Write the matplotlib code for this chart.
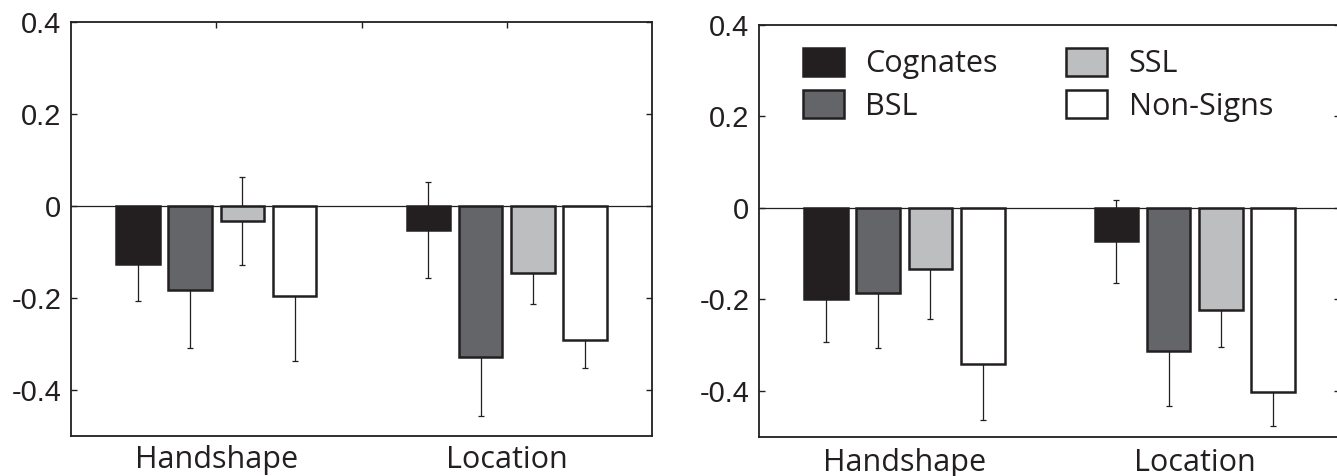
import matplotlib
matplotlib.use("Agg")
import numpy as np
import matplotlib.pyplot as plt

# datos (dos paneles, dos grupos, cuatro condiciones)
groups = ["Handshape", "Location"]
conditions = ["Cognates", "BSL", "SSL", "Non-Signs"]

left_hand = [-0.127, -0.183, -0.034, -0.197]
left_hand_err = [0.080, 0.126, 0.096, 0.141]
left_loc = [-0.053, -0.329, -0.146, -0.293]
left_loc_err = [0.105, 0.129, 0.067, 0.060]

right_hand = [-0.200, -0.186, -0.133, -0.342]
right_hand_err = [0.093, 0.120, 0.110, 0.121]
right_loc = [-0.073, -0.313, -0.222, -0.403]
right_loc_err = [0.090, 0.121, 0.082, 0.073]

yticks = [-0.4, -0.2, 0, 0.2, 0.4]
ytick_labels = ["-0.4", "-0.2", "0", "0.2", "0.4"]

COLORS = ["#231f20", "#646569", "#bcbec0", "#ffffff"]
EDGE = "#231f20"
TEXT_FONT = ["Open Sans", "DejaVu Sans"]
TICK_FONT = ["Liberation Sans", "DejaVu Sans"]

BAR_W = 0.15
OFFSETS = [-0.27, -0.09, 0.09, 0.27]


def draw_panel(ax, hand, hand_err, loc, loc_err, top_ticks, label_pad):
    xs = np.arange(1, len(groups) + 1)
    for k, cond in enumerate(conditions):
        vals = [hand[k], loc[k]]
        errs = [hand_err[k], loc_err[k]]
        xk = xs + OFFSETS[k]
        ax.errorbar(xk, vals, yerr=errs, fmt="none", ecolor=EDGE, elinewidth=0.9,
                    capsize=2.5, capthick=0.9, zorder=1)
        ax.bar(xk, vals, width=BAR_W, color=COLORS[k], edgecolor=EDGE,
               linewidth=1.8, label=cond, zorder=2)
    ax.axhline(0, color=EDGE, linewidth=0.9, zorder=3)

    ax.set_xlim(0.5, 2.5)
    ax.set_ylim(-0.5, 0.4)
    ax.set_yticks(yticks)
    ax.set_yticklabels(ytick_labels, fontsize=21, family=TICK_FONT, color=EDGE)
    ax.set_xticks([1, 1.5, 2])
    ax.set_xticklabels([groups[0], "", groups[1]], fontsize=22, family=TEXT_FONT, color=EDGE)
    ax.tick_params(axis="y", direction="in", left=True, right=True, length=4,
                   width=1, pad=7, color=EDGE)
    ax.tick_params(axis="x", direction="in", bottom=False, top=top_ticks, length=4,
                   width=1, pad=label_pad, color=EDGE)
    for sp in ax.spines.values():
        sp.set_linewidth(1.3)
        sp.set_color(EDGE)


fig = plt.figure(figsize=(13.37, 4.76), dpi=100)
ax1 = fig.add_axes([0.0531, 0.0847, 0.4346, 0.8697])
ax2 = fig.add_axes([0.5677, 0.0826, 0.4346, 0.8649])

draw_panel(ax1, left_hand, left_hand_err, left_loc, left_loc_err, True, 7)
draw_panel(ax2, right_hand, right_hand_err, right_loc, right_loc_err, False, 8)

ax2.legend(loc="upper left", bbox_to_anchor=(0.055, 0.975), ncol=2, frameon=False,
           prop={"family": TEXT_FONT, "size": 22}, handlelength=1.34, handleheight=1.05,
           handletextpad=0.69, columnspacing=2.25, labelspacing=0.36, borderaxespad=0,
           labelcolor=EDGE)

fig.savefig("out.png", dpi=100)
